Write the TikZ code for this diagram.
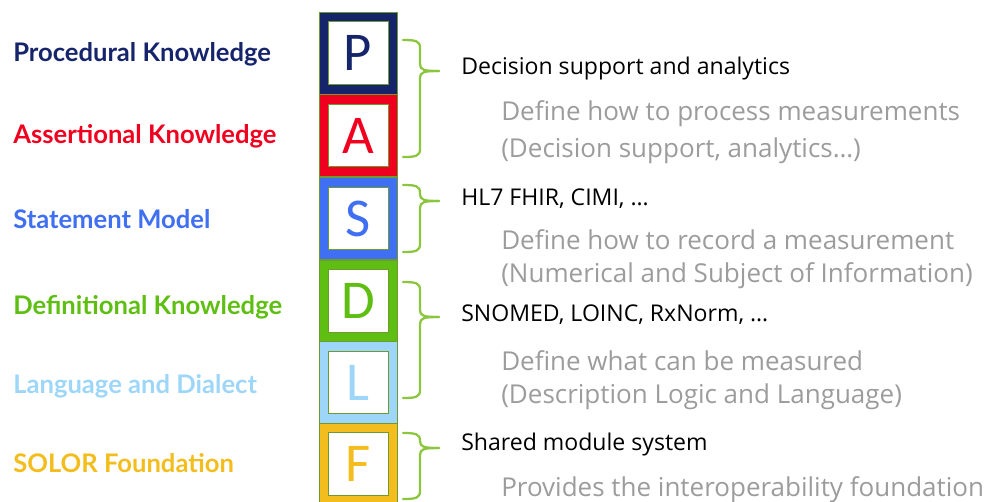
\documentclass[tikz,border=0pt]{standalone}
\usepackage{fontspec}
\setmainfont{Carlito}
\newfontfamily\labelfont{Lato}
\newfontfamily\notefont{Open Sans}
\definecolor{procblue}{HTML}{15246B}
\definecolor{asrtred}{HTML}{F0001E}
\definecolor{stmtblue}{HTML}{3F6FF2}
\definecolor{defgreen}{HTML}{5EBF12}
\definecolor{langblue}{HTML}{9DD6F8}
\definecolor{solorgold}{HTML}{F4BD1E}
\definecolor{edgegreen}{HTML}{6E9A2E}
\definecolor{bracegreen}{HTML}{8CC63E}
\definecolor{notegray}{HTML}{9C9C9C}

\newcommand\layerbrace[3]{%
  \draw[bracegreen, line width=1.7pt, line cap=round]
    (403,#1) .. controls (416,#1) and (420,#1+1) .. (420,#1+8)
    -- (420,#2-7) .. controls (420,#2-1) and (424,#2) .. (439,#2);
  \draw[bracegreen, line width=1.7pt, line cap=round]
    (403,#3) .. controls (416,#3) and (420,#3-1) .. (420,#3-8)
    -- (420,#2+7) .. controls (420,#2+1) and (424,#2) .. (439,#2);
}

\tikzset{
  layer/.style={draw=edgegreen, line width=0.5pt, minimum width=58.5pt,
    minimum height=61.5pt, inner sep=0pt},
  letterbox/.style={draw=edgegreen, line width=0.6pt, fill=white,
    minimum width=45pt, minimum height=47pt, inner sep=0pt,
    font=\fontsize{41}{41}\selectfont},
  sidelabel/.style={anchor=west, inner sep=0pt,
    font=\labelfont\bfseries\fontsize{19.2}{19.2}\selectfont},
  headnote/.style={anchor=west, inner sep=0pt,
    font=\notefont\fontsize{17.3}{17.3}\selectfont},
  graynote/.style={anchor=west, inner sep=0pt, text=notegray,
    font=\notefont\fontsize{19.5}{19.5}\selectfont}
}

\begin{document}
\begin{tikzpicture}[x=0.75pt, y=-0.75pt]
    \useasboundingbox (0,0) rectangle (990,501);

    \foreach \l/\c/\y in {P/procblue/53, A/asrtred/135.5, S/stmtblue/218.5,
                          D/defgreen/301, L/langblue/382.5, F/solorgold/464}
    {
      \node[layer, fill=\c] (box\l) at (358,\y) {};
      \node[letterbox, text=\c] (in\l) at (box\l) {\l};
    }

    \node[sidelabel, text=procblue] (lblP) at (13,54) {Procedural Knowledge};
    \node[sidelabel, text=asrtred] (lblA) at (13,136) {Assertional Knowledge};
    \node[sidelabel, text=stmtblue] (lblS) at (13,219) {Statement Model};
    \node[sidelabel, text=defgreen] (lblD) at (13,307) {Definitional Knowledge};
    \node[sidelabel, text=langblue] (lblL) at (13,386) {Language and Dialect};
    \node[sidelabel, text=solorgold] (lblF) at (13,463) {SOLOR Foundation};

    \layerbrace{40}{71}{157}
    \layerbrace{185}{201}{252}
    \layerbrace{282}{317}{398}
    \layerbrace{433}{448}{499}

    \node[headnote] (headPA) at (461,68.5) {Decision support and analytics};
    \node[graynote] (notePA) at (501,113.5) {Define how to process measurements};
    \node[graynote] (notePAb) at (501,150.5) {(Decision support, analytics\dots)};

    \node[headnote] (headS) at (461,198.5) {HL7 FHIR, CIMI, \dots};
    \node[graynote] (noteS) at (501,239.5) {Define how to record a measurement};
    \node[graynote] (noteSb) at (501,275.5) {(Numerical and Subject of Information)};

    \node[headnote] (headDL) at (461,314.5) {SNOMED, LOINC, RxNorm, \dots};
    \node[graynote] (noteDL) at (501,360.5) {Define what can be measured};
    \node[graynote] (noteDLb) at (501,396.5) {(Description Logic and Language)};

    \node[headnote] (headF) at (461,444.5) {Shared module system};
    \node[graynote] (noteF) at (501,489.5) {Provides the interoperability foundation};
\end{tikzpicture}
\end{document}
